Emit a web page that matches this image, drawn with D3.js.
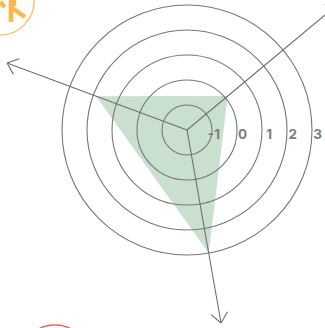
<!DOCTYPE html>
<html>
<head>
<meta charset="utf-8">
<script src="https://cdn.jsdelivr.net/npm/d3@7"></script>
<style>
  html, body { margin: 0; padding: 0; background: #fff; overflow: hidden; }
  svg { display: block; }
</style>
</head>
<body>
<svg id="chart" width="325" height="328"></svg>
<script>
var rings = [-1, 0, 1, 2, 3];
var axisAngles = [39.8, 159.6, 280];   // degrees, measured from +x going up
var axisEnds = [5.84, 5.68, 5.84];     // arrows run past the outer ring
var shapeValues = [0.12, 1.88, 3];
var badgeColors = ["#ffb74a", "#e8604c"];
var badgeValues = [7.08, 8.57];
var badgeAngles = [145.4, 240];

var svg = d3.select("#chart");
var cx = 187, cy = 130;

var r = d3.scaleLinear().domain([-2, 3]).range([0, 125]);

function point(value, deg) {
  var a = deg * Math.PI / 180;
  return [cx + r(value) * Math.cos(a), cy - r(value) * Math.sin(a)];
}

// green triangle
svg.append("polygon")
  .attr("points", shapeValues.map(function(v, i){ return point(v, axisAngles[i]).join(","); }).join(" "))
  .attr("fill", "#c9e0cf");

// rings
svg.selectAll(".ring").data(rings).enter().append("circle")
  .attr("class", "ring")
  .attr("cx", cx).attr("cy", cy)
  .attr("r", function(d){ return r(d); })
  .attr("fill", "none")
  .attr("stroke", "#777")
  .attr("stroke-width", 1.1);

// axes with open arrow heads
axisAngles.forEach(function(deg, i){
  var end = point(axisEnds[i], deg);
  var line = d3.line();
  svg.append("path")
    .attr("d", line([[cx, cy], end]))
    .attr("fill", "none").attr("stroke", "#6e6e6e").attr("stroke-width", 1.1);
  [140, -140].forEach(function(turn){
    var a = (deg + turn) * Math.PI / 180;
    svg.append("path")
      .attr("d", line([end, [end[0] + 13 * Math.cos(a), end[1] - 13 * Math.sin(a)]]))
      .attr("fill", "none").attr("stroke", "#6e6e6e").attr("stroke-width", 1.1);
  });
});

// ring labels
svg.selectAll(".label").data(rings).enter().append("text")
  .attr("class", "label")
  .attr("x", function(d){ return cx + r(d) + (d < 0 ? 8 : 10); })
  .attr("y", 138.5)
  .attr("text-anchor", "end")
  .attr("font-family", "Inter, Lato, sans-serif")
  .attr("font-weight", 700)
  .attr("font-size", 13.5)
  .attr("fill", "#7d7d7d")
  .text(function(d){ return d; });

// icon badges, mostly cut off by the frame
badgeValues.forEach(function(v, i){
  var p = point(v, badgeAngles[i]);
  svg.append("circle")
    .attr("cx", p[0]).attr("cy", p[1]).attr("r", 34)
    .attr("fill", "#fff")
    .attr("stroke", badgeColors[i]).attr("stroke-width", 1.2);
});

// walker icon in the orange badge
var walker = d3.path();
walker.moveTo(11, 0); walker.lineTo(11, 22);
walker.moveTo(12, 8); walker.lineTo(25, 17);
walker.moveTo(14, 0); walker.lineTo(14, 6);
walker.moveTo(0, 2); walker.lineTo(5, 7);
svg.append("path")
  .attr("d", walker.toString())
  .attr("fill", "none")
  .attr("stroke", badgeColors[0])
  .attr("stroke-width", 4.5);
</script>
</body>
</html>
